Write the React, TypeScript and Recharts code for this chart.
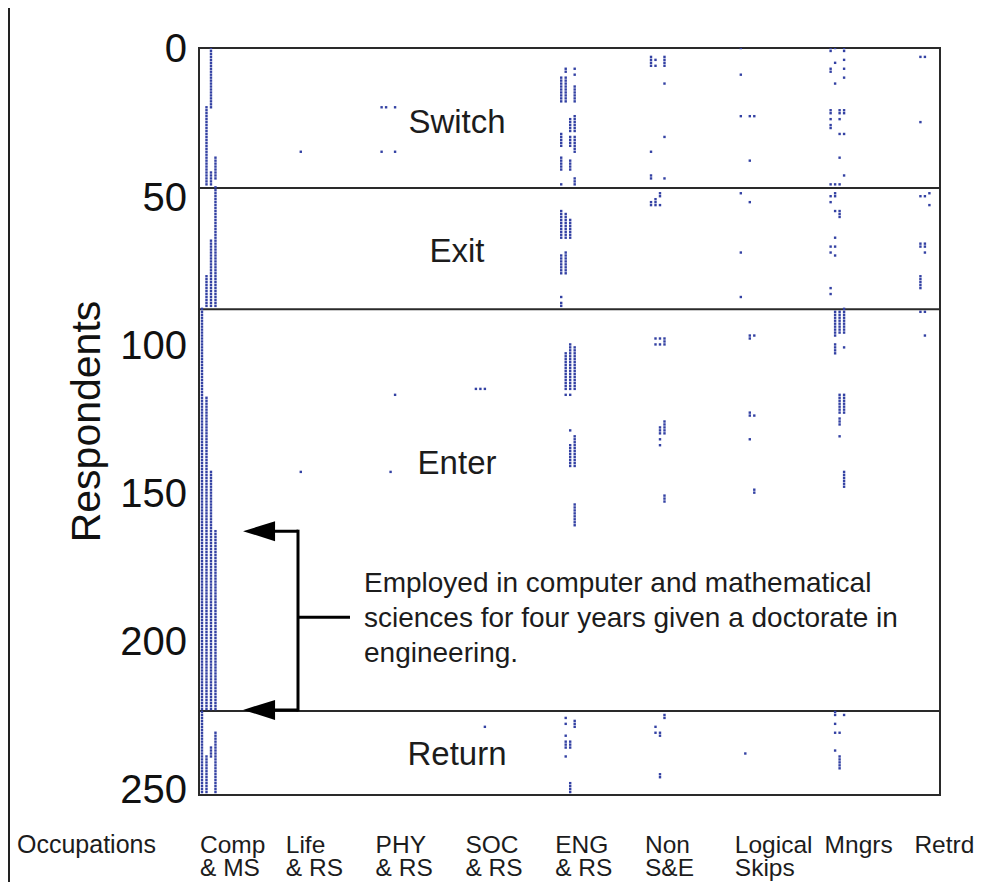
import React from 'react';
import {
  ScatterChart,
  Scatter,
  XAxis,
  YAxis,
  ReferenceArea,
  ReferenceLine,
  ReferenceDot,
} from 'recharts';

// [year column (0-3), first respondent, last respondent]
type Run = [number, number, number];

const occupations = ['Comp', 'Life', 'PHY', 'SOC', 'ENG', 'Non', 'Logical', 'Mngrs', 'Retrd'];
const occupationSubLabels = ['& MS', '& RS', '& RS', '& RS', '& RS', 'S&E', 'Skips', '', ''];
const occupationTicks = [1, 2, 3, 4, 5, 6, 7, 8, 9];
const respondentTicks = [0, 50, 100, 150, 200, 250];

const sectionBreaks = [47.2, 88.1, 223.7];
const sectionNames = ['Switch', 'Exit', 'Enter', 'Return'];
const sectionLabelRows = [24.6, 68.2, 139.7, 237.9];

const noteLines = [
  'Employed in computer and mathematical',
  'sciences for four years given a doctorate in',
  'engineering.',
];
const noteRows = [163, 223.3]; // arrow targets
const noteStubRow = 192;

const compRuns: Run[] = [
  [2, 0, 20], [1, 20, 46], [2, 42, 46], [3, 37, 44],
  [3, 47, 87], [2, 65, 87], [1, 77, 87],
  [0, 88, 223], [1, 118, 223], [2, 143, 223], [3, 163, 223],
  [0, 224, 251], [1, 239, 251], [2, 236, 239], [3, 231, 251],
];
const lifeRuns: Run[] = [[2, 35, 35], [2, 143, 143]];
const phyRuns: Run[] = [
  [0, 20, 20], [1, 20, 20], [3, 20, 20], [0, 35, 35], [3, 35, 35],
  [3, 117, 117], [2, 143, 143],
];
const socRuns: Run[] = [[1, 115, 115], [2, 115, 115], [3, 115, 115], [3, 229, 229]];
const engRuns: Run[] = [
  [1, 7, 8], [3, 7, 7], [3, 9, 9], [0, 10, 18], [1, 10, 18], [3, 13, 18],
  [2, 24, 28], [3, 23, 28], [2, 30, 33], [3, 30, 35], [0, 29, 33],
  [0, 37, 41], [2, 38, 41], [0, 46, 46], [3, 44, 46],
  [0, 55, 64], [1, 56, 64], [2, 58, 64], [0, 70, 76], [1, 69, 76], [0, 84, 84], [0, 86, 87],
  [2, 100, 115], [3, 101, 115], [1, 103, 115], [1, 117, 117], [2, 117, 117],
  [2, 129, 129], [3, 131, 141], [2, 134, 141], [3, 154, 161],
  [1, 226, 226], [1, 228, 228], [3, 227, 229], [1, 232, 232], [1, 234, 235], [2, 234, 235],
  [1, 236, 236], [2, 236, 236], [1, 239, 239], [2, 248, 251],
];
const nonRuns: Run[] = [
  [0, 3, 6], [1, 4, 4], [1, 6, 6], [3, 3, 6], [3, 12, 12], [3, 30, 30], [0, 35, 35],
  [0, 43, 44], [3, 44, 44],
  [2, 49, 50], [0, 52, 53], [1, 51, 53], [2, 53, 53],
  [1, 98, 98], [1, 100, 100], [2, 98, 98], [2, 100, 100], [3, 98, 100],
  [3, 126, 130], [2, 128, 130], [2, 132, 132], [2, 134, 134], [3, 151, 153],
  [3, 225, 226], [1, 229, 229], [1, 231, 231], [2, 231, 232], [2, 245, 246],
];
const logicalRuns: Run[] = [
  [0, 0, 0], [0, 9, 9], [0, 23, 23], [2, 23, 23], [3, 23, 23], [2, 38, 38],
  [0, 49, 49], [2, 52, 52], [0, 69, 69], [0, 84, 84],
  [2, 97, 98], [3, 97, 97], [2, 123, 124], [3, 124, 124], [2, 132, 132], [3, 149, 150],
  [1, 238, 238],
];
const mngrRuns: Run[] = [
  [0, 0, 1], [1, 0, 0], [3, 0, 1], [1, 5, 5], [3, 4, 4], [0, 7, 8], [3, 7, 7], [3, 10, 10],
  [1, 12, 12], [0, 21, 22], [2, 21, 22], [3, 21, 22], [0, 24, 24], [2, 24, 24], [0, 26, 27],
  [2, 29, 29], [3, 29, 29], [2, 37, 37], [3, 43, 43], [0, 46, 46], [1, 46, 46], [2, 46, 46],
  [1, 49, 49], [0, 50, 50], [1, 50, 50], [0, 52, 52], [1, 55, 55], [2, 55, 56], [2, 57, 57],
  [1, 64, 64], [0, 67, 67], [1, 67, 67], [0, 69, 69], [1, 70, 70], [0, 81, 81], [0, 83, 83],
  [1, 89, 96], [2, 89, 96], [3, 88, 96], [1, 97, 97], [1, 100, 103], [3, 101, 101],
  [2, 117, 123], [3, 117, 123], [2, 125, 127], [2, 131, 131], [3, 143, 148],
  [1, 224, 225], [3, 225, 225], [1, 228, 228], [1, 231, 231], [2, 231, 231], [1, 237, 237],
  [2, 239, 243],
];
const retrdRuns: Run[] = [
  [0, 3, 3], [1, 3, 3], [0, 25, 25],
  [2, 49, 49], [0, 50, 50], [1, 50, 50], [2, 53, 53], [0, 66, 67], [1, 66, 67], [1, 69, 69],
  [0, 77, 81],
  [0, 89, 89], [1, 89, 89], [1, 97, 97],
];

const runsByOccupation = [
  compRuns, lifeRuns, phyRuns, socRuns, engRuns, nonRuns, logicalRuns, mngrRuns, retrdRuns,
];

const YEAR_STEP = 0.05;
const X_DOMAIN: [number, number] = [0.9666, 9.218];
const Y_DOMAIN: [number, number] = [0, 252];
const DOT = '#3341a3';
const INK = '#1c1c1c';
const FONT = '"Liberation Sans", Arial, sans-serif';

function expand(occ: number, runs: Run[]) {
  const pts: { x: number; y: number }[] = [];
  for (const [year, from, to] of runs) {
    for (let r = from; r <= to; r++) pts.push({ x: occ + year * YEAR_STEP, y: r });
  }
  return pts;
}

const Mark = (props: any) => {
  const { cx, cy } = props;
  if (cx == null || cy == null) return null;
  return <rect x={cx - 1.2} y={cy - 1.2} width={2.4} height={2.4} fill={DOT} />;
};

const OccTick = (props: any) => {
  const { x, y, payload } = props;
  const i = Math.round(payload.value) - 1;
  const lx = i === 0 ? x - 2 : x - 6;
  return (
    <g fontFamily={FONT} fontSize={24.5} fill={INK}>
      <text x={lx} y={y + 50} textAnchor="start">{occupations[i]}</text>
      <text x={lx} y={y + 73} textAnchor="start">{occupationSubLabels[i]}</text>
    </g>
  );
};

const RespTick = (props: any) => {
  const { x, y, payload } = props;
  return (
    <text x={x} y={y} dy="0.36em" textAnchor="end" fontFamily={FONT} fontSize={40} fill="#111">
      {payload.value}
    </text>
  );
};

const Arrow = (props: any) => {
  const { x1, y1, x2, y2 } = props;
  return (
    <g>
      <line x1={x1} y1={y1} x2={x2 + 20} y2={y2} stroke="#000" strokeWidth={3} />
      <polygon points={`${x2},${y2} ${x2 + 32},${y2 - 10} ${x2 + 32},${y2 + 10}`} fill="#000" />
    </g>
  );
};

const Stub = (props: any) => {
  const { x1, y1, x2, y2 } = props;
  return (
    <g>
      <line x1={x1} y1={y1} x2={x2} y2={y2} stroke="#000" strokeWidth={3} />
      {noteLines.map((t, i) => (
        <text
          key={i}
          x={x2 + 14}
          y={y2 + (i - 1) * 35}
          dy="0.36em"
          fontFamily={FONT}
          fontSize={28}
          fill={INK}
        >
          {t}
        </text>
      ))}
    </g>
  );
};

const Bracket = (props: any) => {
  const { x1, y1, x2, y2 } = props;
  return <line x1={x1} y1={y1 - 1.5} x2={x2} y2={y2 + 1.5} stroke="#000" strokeWidth={3} />;
};

export default function App() {
  const bracketX = 2.069;
  const arrowTipX = 1.457;
  const stubEndX = 2.648;
  const sectionLabelX = 3.84;

  return (
    <div
      style={{
        width: 965,
        height: 874,
        borderLeft: '2px solid #222',
        background: '#fff',
      }}
    >
      <ScatterChart width={965} height={874} margin={{ top: 40, right: 35, bottom: 0, left: 0 }}>
        <XAxis
          type="number"
          dataKey="x"
          domain={X_DOMAIN}
          ticks={occupationTicks}
          interval={0}
          allowDataOverflow
          axisLine={false}
          tickLine={false}
          height={87}
          tick={<OccTick />}
          label={{
            content: (p: any) => (
              <text
                x={p.viewBox.x - 182}
                y={p.viewBox.y + 58}
                fontFamily={FONT}
                fontSize={25}
                fill={INK}
              >
                Occupations
              </text>
            ),
          }}
        />
        <YAxis
          type="number"
          dataKey="y"
          domain={Y_DOMAIN}
          reversed
          ticks={respondentTicks}
          interval={0}
          allowDataOverflow
          axisLine={false}
          tickLine={false}
          tickMargin={6}
          width={189}
          tick={<RespTick />}
          label={{
            content: (p: any) => {
              const cx = p.viewBox.x + 75;
              const cy = p.viewBox.y + p.viewBox.height / 2;
              return (
                <text
                  x={cx}
                  y={cy}
                  dy="0.36em"
                  textAnchor="middle"
                  transform={`rotate(-90 ${cx} ${cy})`}
                  fontFamily={FONT}
                  fontSize={41}
                  fill="#111"
                >
                  Respondents
                </text>
              );
            },
          }}
        />

        {runsByOccupation.map((runs, i) => (
          <Scatter
            key={occupations[i]}
            name={occupations[i]}
            data={expand(i + 1, runs)}
            shape={<Mark />}
            isAnimationActive={false}
          />
        ))}

        {sectionBreaks.map((b) => (
          <ReferenceLine key={b} y={b} stroke="#2a2a2a" strokeWidth={2} />
        ))}
        <ReferenceArea
          x1={X_DOMAIN[0]}
          x2={X_DOMAIN[1]}
          y1={Y_DOMAIN[0]}
          y2={Y_DOMAIN[1]}
          fill="none"
          fillOpacity={0}
          stroke="#2a2a2a"
          strokeWidth={2}
        />

        {sectionNames.map((name, i) => (
          <ReferenceDot
            key={name}
            x={sectionLabelX}
            y={sectionLabelRows[i]}
            r={0}
            fill="none"
            stroke="none"
            label={{ value: name, position: 'center', fontSize: 33, fontFamily: FONT, fill: INK }}
          />
        ))}

        <ReferenceLine
          segment={[{ x: bracketX, y: noteRows[0] }, { x: bracketX, y: noteRows[1] }]}
          shape={<Bracket />}
        />
        {noteRows.map((r) => (
          <ReferenceLine
            key={r}
            segment={[{ x: bracketX, y: r }, { x: arrowTipX, y: r }]}
            shape={<Arrow />}
          />
        ))}
        <ReferenceLine
          segment={[{ x: bracketX, y: noteStubRow }, { x: stubEndX, y: noteStubRow }]}
          shape={<Stub />}
        />
      </ScatterChart>
    </div>
  );
}
